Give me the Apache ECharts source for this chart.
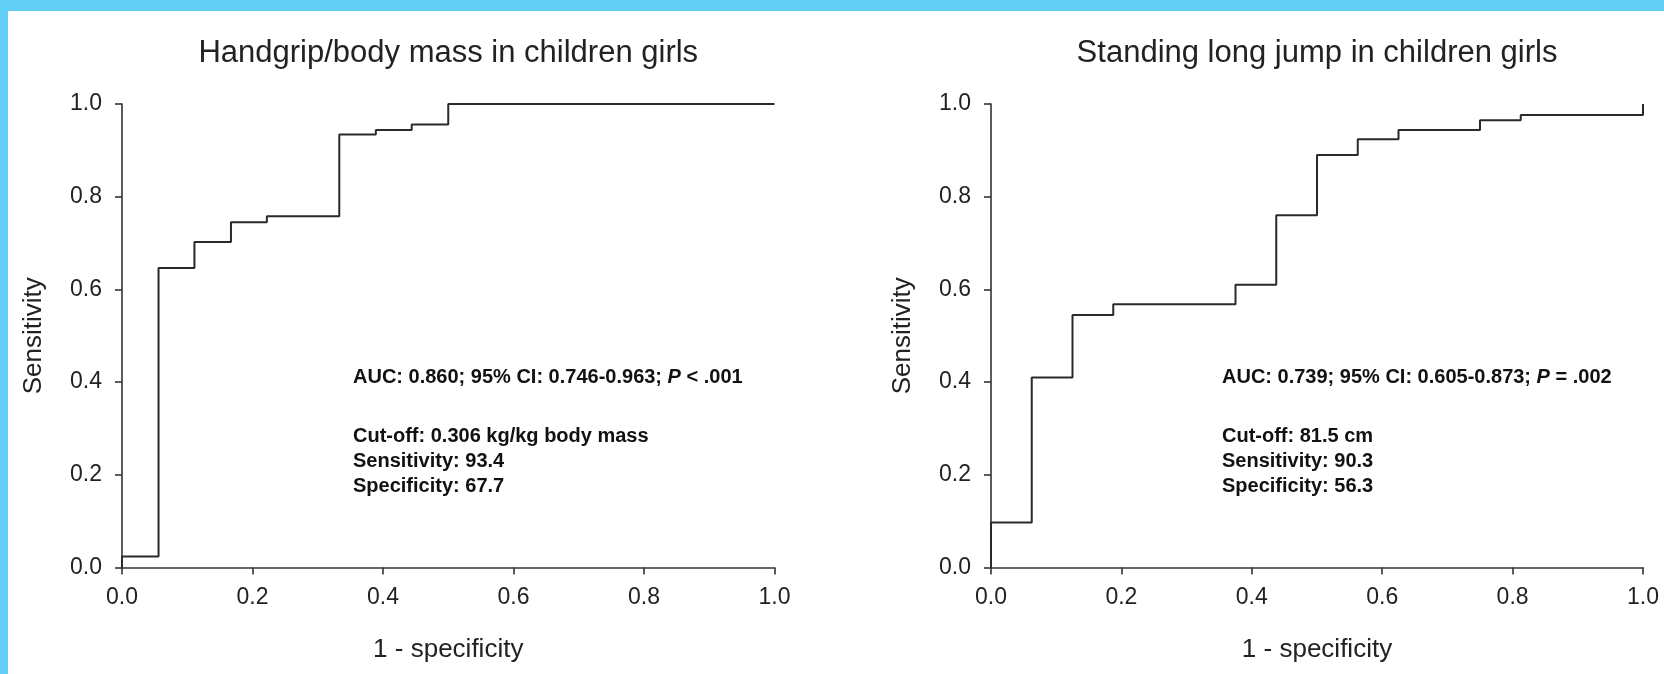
<!DOCTYPE html>
<html>
<head>
<meta charset="utf-8">
<title>ROC curves – children girls</title>
<script src="https://cdn.jsdelivr.net/npm/echarts@6/dist/echarts.min.js"></script>
<style>
  html, body { margin: 0; padding: 0; background: #ffffff; }
  #chart { width: 1664px; height: 674px; }
</style>
</head>
<body>
<div id="chart"></div>
<script>
// ROC staircase vertices: 1 - specificity (x) and sensitivity (y)
const handgripFpr  = [0, 0, 0.056, 0.111, 0.167, 0.222, 0.333, 0.389, 0.444, 0.5, 1.0];
const handgripSens = [0, 0.024, 0.646, 0.702, 0.745, 0.758, 0.934, 0.944, 0.956, 1.0, 1.0];

const jumpFpr  = [0, 0, 0.0625, 0.125, 0.1875, 0.375, 0.4375, 0.5, 0.5625, 0.625, 0.75, 0.8125, 1.0];
const jumpSens = [0, 0.097, 0.41, 0.545, 0.568, 0.61, 0.76, 0.89, 0.924, 0.944, 0.965, 0.976, 1.0];

// Axis ticks (both axes, both panels)
const tickValues = [0, 0.2, 0.4, 0.6, 0.8, 1.0];

// Panel titles
const panelTitles = ['Handgrip/body mass in children girls', 'Standing long jump in children girls'];

// Summary statistics printed inside each panel
const handgripStats = {
  auc: 'AUC: 0.860; 95% CI: 0.746-0.963; ', pSign: ' < .001',
  lines: ['Cut-off: 0.306 kg/kg body mass', 'Sensitivity: 93.4', 'Specificity: 67.7']
};
const jumpStats = {
  auc: 'AUC: 0.739; 95% CI: 0.605-0.873; ', pSign: ' = .002',
  lines: ['Cut-off: 81.5 cm', 'Sensitivity: 90.3', 'Specificity: 56.3']
};

const FONT = '"Liberation Sans", Arial, Helvetica, sans-serif';
const INK = '#222';

const grids = [
  { left: 122, top: 104, width: 652.5, height: 463.5 },
  { left: 991, top: 104, width: 652, height: 463.5 }
];

function pairs(xs, ys) { return xs.map((x, i) => [x, ys[i]]); }

function valueAxis(gridIndex, isX) {
  const ax = {
    type: 'value', gridIndex: gridIndex,
    min: tickValues[0], max: tickValues[tickValues.length - 1],
    interval: tickValues[1] - tickValues[0],
    axisLine: { show: true, onZero: false, lineStyle: { color: '#333', width: 1.6 } },
    axisTick: { show: true, inside: false, length: 7, lineStyle: { color: '#333', width: 1.6 } },
    axisLabel: {
      margin: isX ? 19 : 20, color: INK, fontFamily: FONT, fontSize: 23,
      formatter: v => v.toFixed(1)
    },
    splitLine: { show: false },
    nameLocation: 'middle',
    nameTextStyle: { color: INK, fontFamily: FONT, fontSize: 26 }
  };
  if (isX) { ax.name = '1 - specificity'; ax.nameGap = 69; }
  else { ax.name = 'Sensitivity'; ax.nameGap = 75; }
  return ax;
}

function statsText(stats, x) {
  const els = [];
  const base = { fontFamily: FONT, fontSize: 20, fontWeight: 'bold', fill: '#111' };
  els.push({
    type: 'text', x: x, y: 377,
    style: Object.assign({}, base, {
      text: '{b|' + stats.auc + '}{i|P}{b|' + stats.pSign + '}',
      verticalAlign: 'middle', textVerticalAlign: 'middle',
      rich: {
        b: { fontFamily: FONT, fontSize: 20, fontWeight: 'bold', fill: '#111', color: '#111' },
        i: { fontFamily: FONT, fontSize: 20, fontWeight: 'bold', fontStyle: 'italic', fill: '#111', color: '#111' }
      }
    })
  });
  const ys = [436, 461, 486];
  stats.lines.forEach((t, i) => {
    els.push({
      type: 'text', x: x, y: ys[i],
      style: Object.assign({}, base, { text: t, verticalAlign: 'middle', textVerticalAlign: 'middle' })
    });
  });
  return els;
}

const graphics = [
  // light blue frame along top and left edges
  { type: 'rect', shape: { x: 0, y: 0, width: 1664, height: 11 }, style: { fill: '#62cef5' }, z: 10 },
  { type: 'rect', shape: { x: 0, y: 0, width: 8, height: 674 }, style: { fill: '#62cef5' }, z: 10 }
];
panelTitles.forEach((t, i) => {
  const g = grids[i];
  graphics.push({
    type: 'text', x: g.left + g.width / 2, y: 53,
    style: {
      text: t, fontFamily: FONT, fontSize: 31, fill: INK,
      align: 'center', textAlign: 'center', verticalAlign: 'middle', textVerticalAlign: 'middle'
    }
  });
});
graphics.push(...statsText(handgripStats, 353));
graphics.push(...statsText(jumpStats, 1222));

const option = {
  backgroundColor: '#ffffff',
  animation: false,
  grid: grids.map(g => Object.assign({ containLabel: false, outerBoundsMode: 'none' }, g)),
  xAxis: [valueAxis(0, true), valueAxis(1, true)],
  yAxis: [valueAxis(0, false), valueAxis(1, false)],
  series: [
    {
      type: 'line', xAxisIndex: 0, yAxisIndex: 0, step: 'end',
      data: pairs(handgripFpr, handgripSens),
      showSymbol: false, clip: false,
      lineStyle: { color: '#2a2a2a', width: 2 }
    },
    {
      type: 'line', xAxisIndex: 1, yAxisIndex: 1, step: 'end',
      data: pairs(jumpFpr, jumpSens),
      showSymbol: false, clip: false,
      lineStyle: { color: '#2a2a2a', width: 2 }
    }
  ],
  graphic: graphics
};

const chart = echarts.init(document.getElementById('chart'), null, { renderer: 'canvas' });
chart.setOption(option);
</script>
</body>
</html>
